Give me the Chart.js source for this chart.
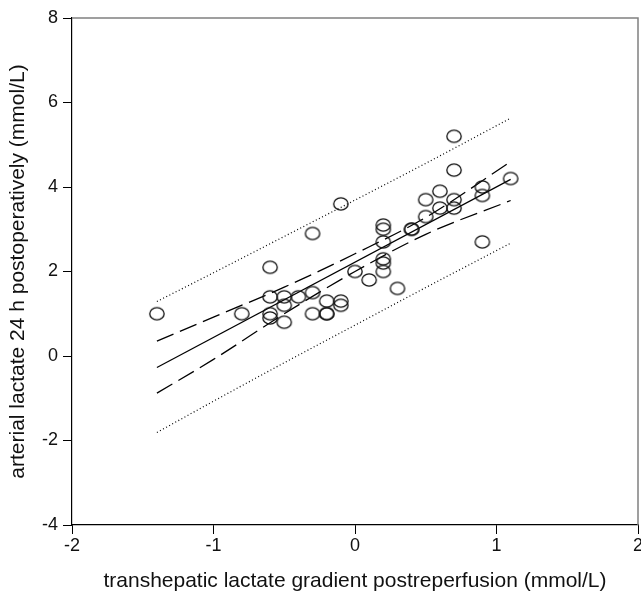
<!DOCTYPE html>
<html lang="en">
<head>
<meta charset="UTF-8">
<title>Lactate</title>
<script src="https://cdn.jsdelivr.net/npm/chart.js"></script>
<style>
  body { margin: 0; background: #fff; }
  canvas { display: block; }
</style>
</head>
<body>
<canvas id="myChart" width="641" height="594"></canvas>
<script>
// observed patients
var gradient = [-1.4, -0.8, -0.6, -0.6, -0.6, -0.6, -0.5, -0.5, -0.5, -0.4,
                -0.3, -0.3, -0.3, -0.2, -0.2, -0.2, -0.1, -0.1, -0.1, 0.0,
                0.1, 0.2, 0.2, 0.2, 0.2, 0.2, 0.2, 0.3, 0.4, 0.4,
                0.5, 0.5, 0.6, 0.6, 0.7, 0.7, 0.7, 0.7, 0.9, 0.9,
                0.9, 1.1];
var lactate24h = [1.0, 1.0, 2.1, 1.4, 1.0, 0.9, 1.4, 1.2, 0.8, 1.4,
                  2.9, 1.5, 1.0, 1.3, 1.0, 1.0, 3.6, 1.3, 1.2, 2.0,
                  1.8, 3.1, 3.0, 2.7, 2.3, 2.2, 2.0, 1.6, 3.0, 3.0,
                  3.7, 3.3, 3.9, 3.5, 5.2, 4.4, 3.7, 3.5, 4.0, 3.8,
                  2.7, 4.2];

// regression line and bands
var fitX = [-1.4, 1.1];
var fitY = [-0.27, 4.18];
var bandX = [-1.4, -1.0, -0.5, 0, 0.5, 1.1];
var confUpper = [0.35, 0.92, 1.63, 2.42, 3.28, 4.6];
var confLower = [-0.88, -0.08, 1.0, 2.0, 2.88, 3.68];
var predUpper = [1.29, 1.97, 2.83, 3.69, 4.56, 5.63];
var predLower = [-1.81, -1.07, -0.16, 0.73, 1.62, 2.67];

var xTicks = [-2, -1, 0, 1, 2];
var yTicks = [-4, -2, 0, 2, 4, 6, 8];

function pts(xs, ys) {
    return xs.map(function (x, i) { return { x: x, y: ys[i] }; });
}

// open ellipse marker like the original
var marker = document.createElement('canvas');
marker.width = 18;
marker.height = 16;
var mctx = marker.getContext('2d');
mctx.strokeStyle = '#111';
mctx.lineWidth = 1.3;
mctx.beginPath();
mctx.ellipse(9, 8, 7.2, 6.1, 0, 0, Math.PI * 2);
mctx.stroke();

function bandLine(xs, ys, dash, width) {
    return {
        type: 'line',
        data: pts(xs, ys),
        borderColor: '#000',
        borderWidth: width,
        borderDash: dash,
        pointRadius: 0,
        fill: false,
        tension: 0.4,
        cubicInterpolationMode: 'monotone'
    };
}

var frame = {
    id: 'frame',
    afterDraw: function (chart) {
        var a = chart.chartArea, c = chart.ctx;
        c.save();
        c.strokeStyle = '#808080';
        c.lineWidth = 1.5;
        c.beginPath();
        c.moveTo(a.left, a.top);
        c.lineTo(a.right, a.top);
        c.lineTo(a.right, a.bottom);
        c.stroke();
        c.restore();
    }
};

var ctx = document.getElementById('myChart').getContext('2d');
var myChart = new Chart(ctx, {
    type: 'scatter',
    data: {
        datasets: [
            {
                data: pts(gradient, lactate24h),
                pointStyle: marker,
                pointRadius: 7,
                showLine: false
            },
            bandLine(fitX, fitY, [], 1.2),
            bandLine(bandX, confUpper, [18, 7], 1.3),
            bandLine(bandX, confLower, [18, 7], 1.3),
            bandLine(bandX, predUpper, [1, 2.5], 1.2),
            bandLine(bandX, predLower, [1, 2.5], 1.2)
        ]
    },
    options: {
        responsive: false,
        animation: false,
        layout: { autoPadding: false, padding: { left: 0, right: 3, top: 18, bottom: 0 } },
        plugins: { legend: { display: false }, tooltip: { enabled: false } },
        scales: {
            x: {
                type: 'linear',
                min: -2, max: 2,
                afterBuildTicks: function (s) { s.ticks = xTicks.map(function (v) { return { value: v }; }); },
                afterFit: function (s) { s.height = 69; s.paddingLeft = 0; s.paddingRight = 0; },
                grid: { drawOnChartArea: false, drawTicks: true, tickLength: 9, color: '#000' },
                border: { color: '#000', width: 1.2 },
                ticks: { color: '#111', padding: 1, maxRotation: 0, font: { family: 'Liberation Sans', size: 18 } },
                title: {
                    display: true,
                    text: 'transhepatic lactate gradient postreperfusion (mmol/L)',
                    color: '#111',
                    padding: { top: 3, bottom: 0 },
                    font: { family: 'Liberation Sans', size: 21 }
                }
            },
            y: {
                type: 'linear',
                min: -4, max: 8,
                afterBuildTicks: function (s) { s.ticks = yTicks.map(function (v) { return { value: v }; }); },
                afterFit: function (s) { s.width = 72; s.paddingTop = 0; s.paddingBottom = 0; },
                grid: { drawOnChartArea: false, drawTicks: true, tickLength: 9, color: '#000' },
                border: { color: '#000', width: 1.2 },
                ticks: { color: '#111', padding: 5, font: { family: 'Liberation Sans', size: 18 } },
                title: {
                    display: true,
                    text: 'arterial lactate 24 h postoperatively (mmol/L)',
                    color: '#111',
                    padding: { top: 6, bottom: 0 },
                    font: { family: 'Liberation Sans', size: 21 }
                }
            }
        }
    },
    plugins: [frame]
});
</script>
</body>
</html>
